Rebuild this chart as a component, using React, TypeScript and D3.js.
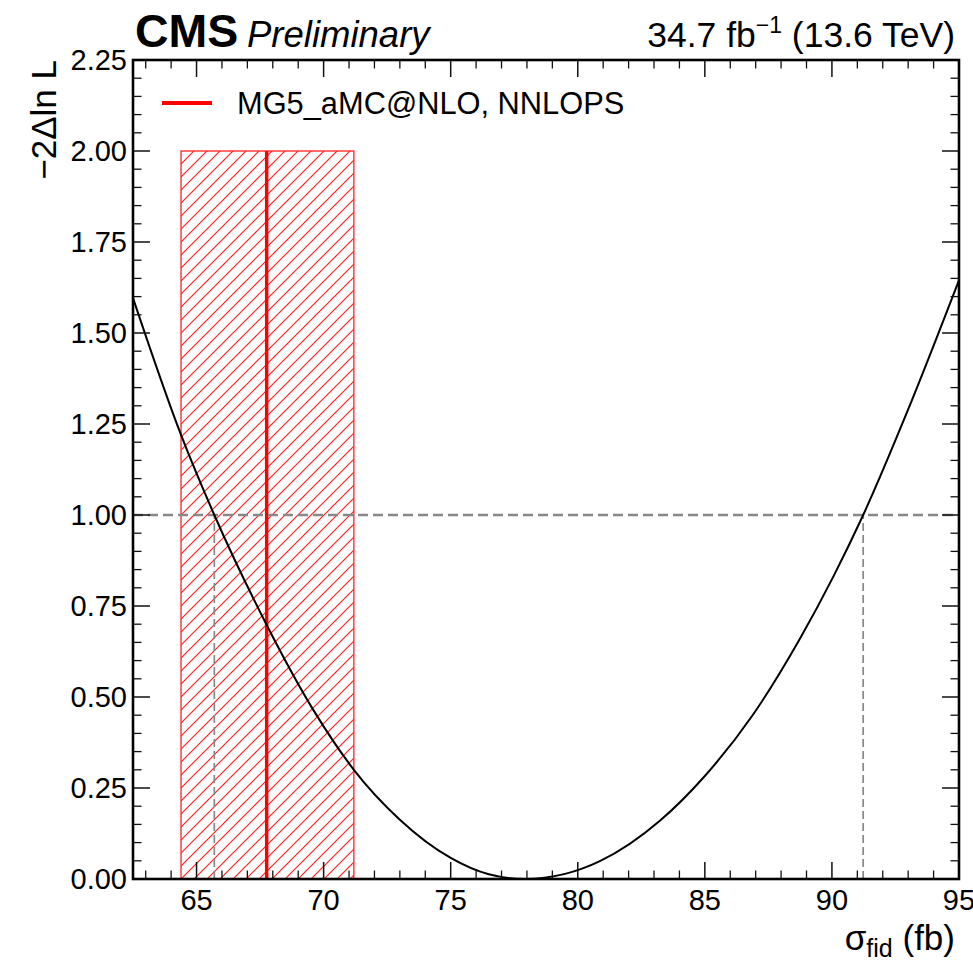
import React from "react";
import * as d3 from "d3";

// ---- data ----
const xMajorTicks = [65, 70, 75, 80, 85, 90, 95];
const yMajorTicks = [0, 0.25, 0.5, 0.75, 1.0, 1.25, 1.5, 1.75, 2.0, 2.25];
const curveSigma = [62.5, 64.39, 65.7, 67.76, 69.6, 71.19, 73.0, 75, 76.5, 77.9, 79.5, 80.87, 83.23, 85, 86.9, 88.74, 90.05, 91.23, 93, 95];
const curveNll = [1.596, 1.22, 1.0, 0.698, 0.464, 0.30, 0.163, 0.058, 0.013, 0.0, 0.014, 0.049, 0.16, 0.283, 0.452, 0.66, 0.83, 1.0, 1.29, 1.645];
const predCentral = 67.76;
const predBand = [64.39, 71.19];
const predBandHeight = 2.0;
const crossings = [65.7, 91.23];
const oneSigmaLevel = 1.0;
const legendLabel = "MG5_aMC@NLO, NNLOPS";

const W = 973, H = 964;
const L = 133, R = 959, T = 60, B = 879;
const FONT = "'Liberation Sans', Arial, Helvetica, sans-serif";

export default function App() {
  const x = d3.scaleLinear().domain([62.5, 95]).range([L, R]);
  const y = d3.scaleLinear().domain([0, 2.25]).range([B, T]);
  const xMinor = d3.range(63, 95.001, 1).filter((v) => Math.abs(v % 5) > 1e-6);
  const yMinor = d3.range(0, 2.2501, 0.05).filter((v) => Math.abs(v / 0.25 - Math.round(v / 0.25)) > 1e-6);
  const pts = curveSigma.map((s, i) => [s, curveNll[i]] as [number, number]);
  const line = d3.line<[number, number]>().x((d) => x(d[0])).y((d) => y(d[1])).curve(d3.curveMonotoneX);
  const fmt = d3.format(".2f");
  const tickColor = "#111";
  const hs = 13;

  return (
    <svg width={W} height={H} style={{ position: "absolute", left: 0, top: 0, background: "#fff" }} fontFamily={FONT}>
      <defs>
        <pattern id="hatch" patternUnits="userSpaceOnUse" width={hs} height={hs} x={x(predBand[0])} y={y(predBandHeight)}>
          <path d={`M-1,1 L1,-1 M0,${hs} L${hs},0 M${hs - 1},${hs + 1} L${hs + 1},${hs - 1}`} stroke="#ff2020" strokeWidth={1.2} />
        </pattern>
        <clipPath id="plotClip">
          <rect x={L} y={T} width={R - L} height={B - T} />
        </clipPath>
      </defs>
      <rect x={0} y={0} width={W} height={H} fill="#fff" />

      {/* prediction band */}
      <rect x={x(predBand[0])} y={y(predBandHeight)} width={x(predBand[1]) - x(predBand[0])} height={y(0) - y(predBandHeight)} fill="url(#hatch)" stroke="#ff2020" strokeWidth={1.3} />
      <line x1={x(predCentral)} x2={x(predCentral)} y1={y(0)} y2={y(predBandHeight)} stroke="#ff0000" strokeWidth={3.5} />

      {/* dashed reference lines */}
      <line x1={L} x2={R} y1={y(oneSigmaLevel)} y2={y(oneSigmaLevel)} stroke="#888" strokeWidth={2.4} strokeDasharray="10,5" />
      {crossings.map((c, i) => (
        <line key={i} x1={x(c)} x2={x(c)} y1={y(0)} y2={y(oneSigmaLevel)} stroke="#888" strokeWidth={1.7} strokeDasharray="8,4" />
      ))}

      {/* likelihood curve */}
      <path d={line(pts) || ""} fill="none" stroke="#000" strokeWidth={2} clipPath="url(#plotClip)" />

      {/* ticks */}
      {xMajorTicks.map((v) => (
        <g key={"xm" + v}>
          <line x1={x(v)} x2={x(v)} y1={B} y2={B - 17} stroke={tickColor} strokeWidth={1.5} />
          <line x1={x(v)} x2={x(v)} y1={T} y2={T + 17} stroke={tickColor} strokeWidth={1.5} />
        </g>
      ))}
      {xMinor.map((v) => (
        <g key={"xn" + v}>
          <line x1={x(v)} x2={x(v)} y1={B} y2={B - 8.5} stroke={tickColor} strokeWidth={1.3} />
          <line x1={x(v)} x2={x(v)} y1={T} y2={T + 8.5} stroke={tickColor} strokeWidth={1.3} />
        </g>
      ))}
      {yMajorTicks.map((v) => (
        <g key={"ym" + v}>
          <line x1={L} x2={L + 17} y1={y(v)} y2={y(v)} stroke={tickColor} strokeWidth={1.5} />
          <line x1={R} x2={R - 17} y1={y(v)} y2={y(v)} stroke={tickColor} strokeWidth={1.5} />
        </g>
      ))}
      {yMinor.map((v) => (
        <g key={"yn" + v}>
          <line x1={L} x2={L + 8.5} y1={y(v)} y2={y(v)} stroke={tickColor} strokeWidth={1.3} />
          <line x1={R} x2={R - 8.5} y1={y(v)} y2={y(v)} stroke={tickColor} strokeWidth={1.3} />
        </g>
      ))}

      {/* frame */}
      <rect x={L} y={T} width={R - L} height={B - T} fill="none" stroke="#000" strokeWidth={2.6} />

      {/* tick labels */}
      {xMajorTicks.map((v) => (
        <text key={"xl" + v} x={x(v)} y={910} textAnchor="middle" fontSize={29} fill="#000">{v}</text>
      ))}
      {yMajorTicks.map((v) => (
        <text key={"yl" + v} x={127} y={y(v)} dy="0.36em" textAnchor="end" fontSize={29} fill="#000">{fmt(v)}</text>
      ))}

      {/* axis titles */}
      <text x={955} y={950} textAnchor="end" fontSize={35} fill="#000">
        σ<tspan fontSize={25} dy={7}>fid</tspan><tspan dy={-7}> (fb)</tspan>
      </text>
      <text transform={`translate(56,${T}) rotate(-90)`} textAnchor="end" fontSize={35} fill="#000">−2Δln L</text>

      {/* header */}
      <text x={135} y={47} fontSize={46.5} fontWeight="bold" fill="#000">CMS</text>
      <text x={247} y={47} fontSize={36.5} fontStyle="italic" fill="#000">Preliminary</text>
      <text x={955} y={47} textAnchor="end" fontSize={35.5} fill="#000">
        34.7 fb<tspan fontSize={23} dy={-14}>−1</tspan><tspan dy={14}> (13.6 TeV)</tspan>
      </text>

      {/* legend */}
      <line x1={162} x2={212} y1={103} y2={103} stroke="#ff0000" strokeWidth={4} />
      <text x={237} y={114} fontSize={30.8} fill="#000">{legendLabel}</text>
    </svg>
  );
}
